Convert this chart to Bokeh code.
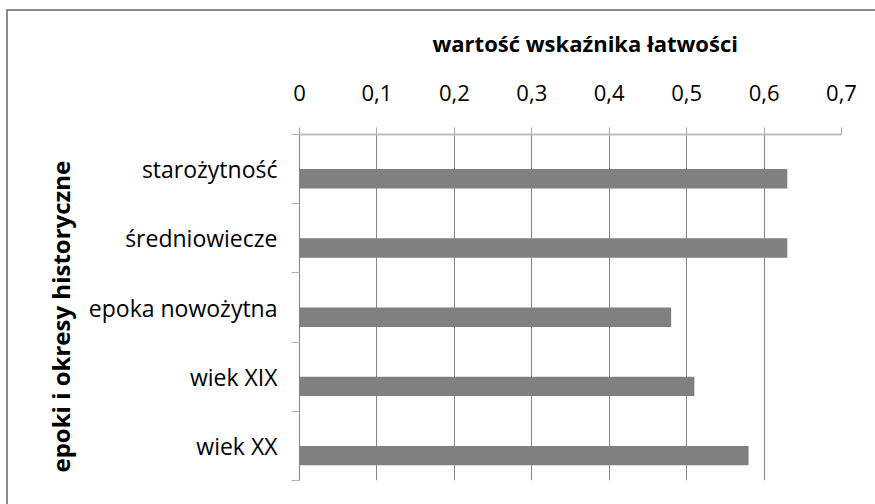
from bokeh.plotting import figure
from bokeh.models import FixedTicker, Range1d, Title
from bokeh.embed import file_html
from bokeh.resources import INLINE

categories = ["starożytność", "średniowiecze", "epoka nowożytna", "wiek XIX", "wiek XX"]
values = [0.63, 0.63, 0.48, 0.51, 0.58]
x_ticks = [0, 0.1, 0.2, 0.3, 0.4, 0.5, 0.6, 0.7]
x_tick_labels = ["0", "0,1", "0,2", "0,3", "0,4", "0,5", "0,6", "0,7"]
x_title = "wartość wskaźnika łatwości"
y_title = "epoki i okresy historyczne"

n = len(categories)
centers = [n - 0.5 - i for i in range(n)]
boundaries = [float(i) for i in range(n + 1)]
bar_y = [c - 0.14 for c in centers]

FONT = "Open Sans"
BORDER = "#8c8c8c"

p = figure(width=875, height=504,
           x_range=Range1d(0, x_ticks[-1]), y_range=Range1d(0, n),
           x_axis_location="above",
           output_backend="svg", toolbar_location=None,
           min_border_left=299, min_border_right=34,
           min_border_top=134, min_border_bottom=24)

p.background_fill_color = "white"
p.border_fill_color = None
p.outline_line_color = None
p.styles = {
    "background": (f"linear-gradient({BORDER},{BORDER}) 6px 9px / 2px 100% no-repeat, "
                   f"linear-gradient({BORDER},{BORDER}) 6px 9px / 100% 2px no-repeat, white")
}

p.hbar(y=bar_y, left=0, right=values, height=0.28,
       fill_color="#808080", line_color=None)

# x axis (top)
xa = p.xaxis[0]
xa.ticker = FixedTicker(ticks=x_ticks)
xa.major_label_overrides = {t: l for t, l in zip(x_ticks, x_tick_labels)}
xa.axis_line_color = "#bfbfbf"
xa.axis_line_width = 2
xa.major_tick_out = 7
xa.major_tick_in = 0
xa.major_tick_line_color = "#a6a6a6"
xa.minor_tick_line_color = None
xa.major_label_text_font = FONT
xa.major_label_text_font_size = "22px"
xa.major_label_text_color = "black"
xa.major_label_standoff = 27

# y axis (left)
ya = p.yaxis[0]
ya.ticker = FixedTicker(ticks=centers, minor_ticks=boundaries)
ya.major_label_overrides = {c: l for c, l in zip(centers, categories)}
ya.axis_line_color = "#868686"
ya.major_tick_line_color = None
ya.major_tick_out = 0
ya.major_tick_in = 0
ya.minor_tick_out = 8
ya.minor_tick_in = 0
ya.minor_tick_line_color = "#b0b0b0"
ya.major_label_text_font = FONT
ya.major_label_text_font_size = "23px"
ya.major_label_text_color = "black"
ya.major_label_standoff = 14

p.xgrid.ticker = FixedTicker(ticks=x_ticks)
p.xgrid.grid_line_color = "#868686"
p.ygrid.grid_line_color = None

p.title.text = x_title
p.title.align = "left"
p.title.offset = 133
p.title.text_font = FONT
p.title.text_font_size = "22px"
p.title.text_font_style = "bold"
p.title.text_color = "black"
p.title.standoff = 48

yt = Title(text=y_title, align="left", offset=8, text_font=FONT,
           text_font_size="24px", text_font_style="bold", text_color="black",
           standoff=18)
p.add_layout(yt, "left")

open("out.html", "w").write(file_html(p, INLINE))
